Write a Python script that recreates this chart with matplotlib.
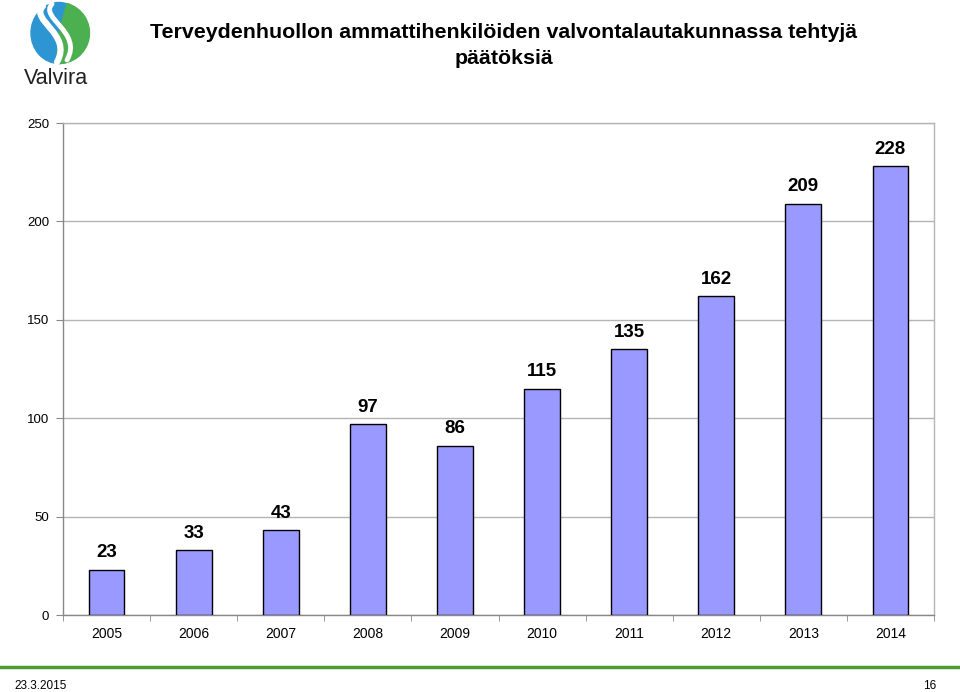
import matplotlib
matplotlib.use('Agg')
import matplotlib.pyplot as plt
from matplotlib.patches import Ellipse, Wedge, PathPatch
from matplotlib.path import Path
from matplotlib.lines import Line2D

years = ['2005', '2006', '2007', '2008', '2009', '2010', '2011', '2012', '2013', '2014']
decisions = [23, 33, 43, 97, 86, 115, 135, 162, 209, 228]
y_ticks = [0, 50, 100, 150, 200, 250]

title_lines = ["Terveydenhuollon ammattihenkilöiden valvontalautakunnassa tehtyjä",
               "päätöksiä"]

plt.rcParams['font.family'] = ['Liberation Sans', 'DejaVu Sans']

fig = plt.figure(figsize=(9.6, 6.92), dpi=100)
W, H = 960, 692

# plot area: x 63..934, y 123..615 (pixels from top)
ax = fig.add_axes([63 / W, 1 - 615 / H, (934 - 63) / W, (615 - 123) / H])
x = range(len(years))
ax.bar(x, decisions, width=0.41, color='#9999FF', edgecolor='black', linewidth=1.0, zorder=3)
for xi, v in zip(x, decisions):
    ax.annotate(str(v), (xi, v), xytext=(0, 6), textcoords='offset points',
                ha='center', va='bottom', fontsize=13.5, fontweight='bold')

ax.set_xlim(-0.5, len(years) - 0.5)
ax.set_ylim(0, 250)
ax.set_yticks(y_ticks)
ax.set_yticklabels([str(t) for t in y_ticks], fontsize=9.5)
ax.yaxis.grid(True, color='#b4b4b4', linewidth=1.0, zorder=0)
ax.set_axisbelow(True)
ax.set_xticks(list(x))
ax.set_xticklabels(years, fontsize=10)
ax.set_xticks([i - 0.5 for i in range(len(years) + 1)], minor=True)
ax.tick_params(axis='x', which='major', length=0, pad=9)
ax.tick_params(axis='x', which='minor', length=4, color='#888888', direction='out')
ax.tick_params(axis='y', length=5, color='#888888', direction='out', pad=5)
for side in ['left', 'bottom', 'top', 'right']:
    ax.spines[side].set_color('#888888')
    ax.spines[side].set_linewidth(1.0)
ax.spines['top'].set_color('#b4b4b4')
ax.spines['right'].set_color('#b4b4b4')

# title
fig.text(504 / W, 1 - 32 / H, title_lines[0], ha='center', va='center', fontsize=15.4,
         fontweight='bold')
fig.text(504 / W, 1 - 58 / H, title_lines[1], ha='center', va='center', fontsize=15.4,
         fontweight='bold')

# logo, drawn in pixel coords (y down)
lax = fig.add_axes([0, 1 - 95 / H, 120 / W, 95 / H])
lax.set_xlim(0, 120)
lax.set_ylim(95, 0)
lax.axis('off')
lax.add_patch(Ellipse((59, 33), 56, 61, color='#2E95D3'))
lax.add_patch(Wedge((59, 33), 30.5, -75, 95, color='#4CAF50'))
s_outer = Path([(43, 6), (29, 20), (73, 34), (57, 62)],
               [Path.MOVETO, Path.CURVE4, Path.CURVE4, Path.CURVE4])
s_inner = Path([(52, 4), (39, 18), (83, 32), (67, 60)],
               [Path.MOVETO, Path.CURVE4, Path.CURVE4, Path.CURVE4])
lax.add_patch(PathPatch(s_outer, facecolor='none', edgecolor='white', linewidth=4.5,
                        capstyle='round'))
lax.add_patch(PathPatch(s_inner, facecolor='none', edgecolor='white', linewidth=3.5,
                        capstyle='round'))
lax.text(56, 78, 'Valvira', ha='center', va='center', fontsize=15.5, color='#222222')

# footer
fig.add_artist(Line2D([0, 1], [1 - 667 / H, 1 - 667 / H], color='#4E9A2E', linewidth=2.5))
fig.text(14 / W, 1 - 686 / H, '23.3.2015', ha='left', va='center', fontsize=8.5)
fig.text(936 / W, 1 - 686 / H, '16', ha='right', va='center', fontsize=8.5)

fig.savefig('out.png', dpi=100)
